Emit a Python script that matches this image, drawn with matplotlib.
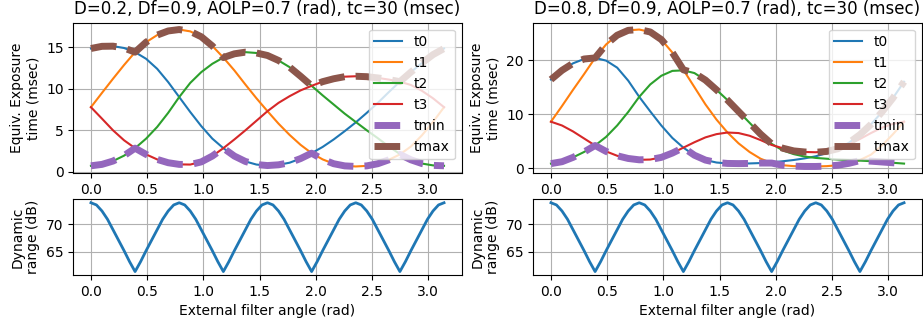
import numpy as np
import matplotlib
matplotlib.use("Agg")
import matplotlib.pyplot as plt

# sample angles of the external filter (rad), 0 .. pi in 32 steps
angle = np.linspace(0, np.pi, 33)
# the dynamic range curve is read on a finer grid (64 steps)
angle_dr = np.linspace(0, np.pi, 65)

titles = ["D=0.2, Df=0.9, AOLP=0.7 (rad), tc=30 (msec)",
          "D=0.8, Df=0.9, AOLP=0.7 (rad), tc=30 (msec)"]

# equivalent exposure times (msec), D=0.2
t0_a = [14.84, 15.10, 15.12, 14.90, 14.40, 13.60, 12.40, 10.80, 9.00, 7.20, 5.50,
        4.00, 2.85, 1.90, 1.25, 0.88, 0.76, 0.85, 1.10, 1.60, 2.25, 3.00,
        3.90, 4.90, 5.95, 7.10, 8.30, 9.60, 10.85, 12.00, 13.10, 14.10, 14.84]
t1_a = [7.78, 9.50, 11.20, 12.85, 14.40, 15.60, 16.45, 16.95, 17.12, 16.90, 16.25,
        15.15, 13.75, 12.20, 10.50, 8.85, 7.30, 5.80, 4.45, 3.25, 2.25, 1.50,
        0.98, 0.72, 0.65, 0.72, 0.98, 1.45, 2.10, 3.05, 4.40, 6.00, 7.78]
t2_a = [0.73, 0.90, 1.30, 1.95, 2.85, 4.00, 5.40, 7.10, 9.00, 10.70, 12.00,
        13.00, 13.75, 14.20, 14.40, 14.30, 14.00, 13.40, 12.60, 11.50, 10.35, 9.20,
        8.10, 7.00, 6.00, 5.00, 4.05, 3.05, 2.15, 1.45, 1.00, 0.78, 0.73]
t3_a = [7.78, 6.40, 5.00, 3.80, 2.85, 2.10, 1.50, 1.10, 0.90, 0.88, 1.20,
        1.90, 2.85, 3.90, 5.00, 6.15, 7.30, 8.30, 9.10, 9.80, 10.35, 10.85,
        11.20, 11.45, 11.50, 11.45, 11.30, 11.10, 10.85, 10.45, 9.75, 8.85, 7.78]

# equivalent exposure times (msec), D=0.8
t0_b = [16.4, 18.1, 19.4, 20.2, 20.4, 19.9, 18.6, 16.2, 13.2, 10.5, 7.9,
        5.6, 3.8, 2.4, 1.5, 1.05, 0.88, 0.85, 0.88, 0.95, 1.08, 1.28,
        1.52, 1.82, 2.2, 2.8, 3.6, 4.7, 6.2, 8.1, 10.4, 13.0, 16.0]
t1_b = [8.6, 11.5, 14.5, 17.4, 20.4, 22.9, 24.6, 25.5, 25.65, 25.2, 23.8,
        21.4, 18.2, 15.0, 11.8, 9.0, 6.6, 4.6, 3.0, 1.75, 0.95, 0.55,
        0.38, 0.32, 0.32, 0.38, 0.55, 0.9, 1.5, 2.5, 4.2, 6.3, 8.6]
t2_b = [0.85, 1.2, 2.0, 3.0, 4.2, 5.8, 7.9, 10.4, 13.2, 15.5, 17.1,
        18.0, 18.1, 17.6, 16.3, 14.5, 12.6, 10.5, 8.4, 6.3, 4.5, 3.3,
        2.6, 2.15, 1.9, 1.75, 1.6, 1.5, 1.4, 1.3, 1.15, 1.0, 0.85]
t3_b = [8.6, 7.9, 6.8, 5.5, 4.2, 3.1, 2.3, 1.8, 1.55, 1.6, 2.0,
        2.8, 3.8, 4.8, 5.7, 6.3, 6.6, 6.5, 6.0, 5.2, 4.3, 3.7,
        3.2, 3.0, 2.95, 3.1, 3.6, 4.4, 5.4, 6.5, 7.5, 8.2, 8.6]

# dynamic range (dB), same for both cases
dyn_range = [73.9, 73.5, 72.4, 70.9, 69.0, 67.1, 65.2, 63.2, 61.4, 63.2, 65.2, 67.1, 69.0, 70.9, 72.4, 73.5,
             73.9, 73.5, 72.4, 70.9, 69.0, 67.1, 65.2, 63.2, 61.4, 63.2, 65.2, 67.1, 69.0, 70.9, 72.4, 73.5,
             73.9, 73.5, 72.4, 70.9, 69.0, 67.1, 65.2, 63.2, 61.4, 63.2, 65.2, 67.1, 69.0, 70.9, 72.4, 73.5,
             73.9, 73.5, 72.4, 70.9, 69.0, 67.1, 65.2, 63.2, 61.4, 63.2, 65.2, 67.1, 69.0, 70.9, 72.4, 73.5,
             73.9]

cases = [[t0_a, t1_a, t2_a, t3_a], [t0_b, t1_b, t2_b, t3_b]]

fig = plt.figure(figsize=(9.23, 3.27), dpi=100)

lefts = [0.0794, 0.5778]
for col in range(2):
    ax = fig.add_axes([lefts[col], 0.470, 0.4208, 0.4606])
    ts = cases[col]
    for i, t in enumerate(ts):
        ax.plot(angle, t, label='t%d' % i)
    stack = np.vstack(ts)
    ax.plot(angle, stack.min(axis=0), '--', lw=5, label='tmin')
    ax.plot(angle, stack.max(axis=0), '--', lw=5, label='tmax')
    ax.grid(True)
    ax.legend(loc='upper right')
    ax.set_title(titles[col])
    ax.set_ylabel('Equiv. Exposure\ntime (msec)')

    ax2 = fig.add_axes([lefts[col], 0.159, 0.4208, 0.2315])
    ax2.plot(angle_dr, dyn_range, lw=2)
    ax2.grid(True)
    ax2.set_ylabel('Dynamic\nrange (dB)')
    ax2.set_xlabel('External filter angle (rad)')

fig.savefig('out.png', dpi=100)
